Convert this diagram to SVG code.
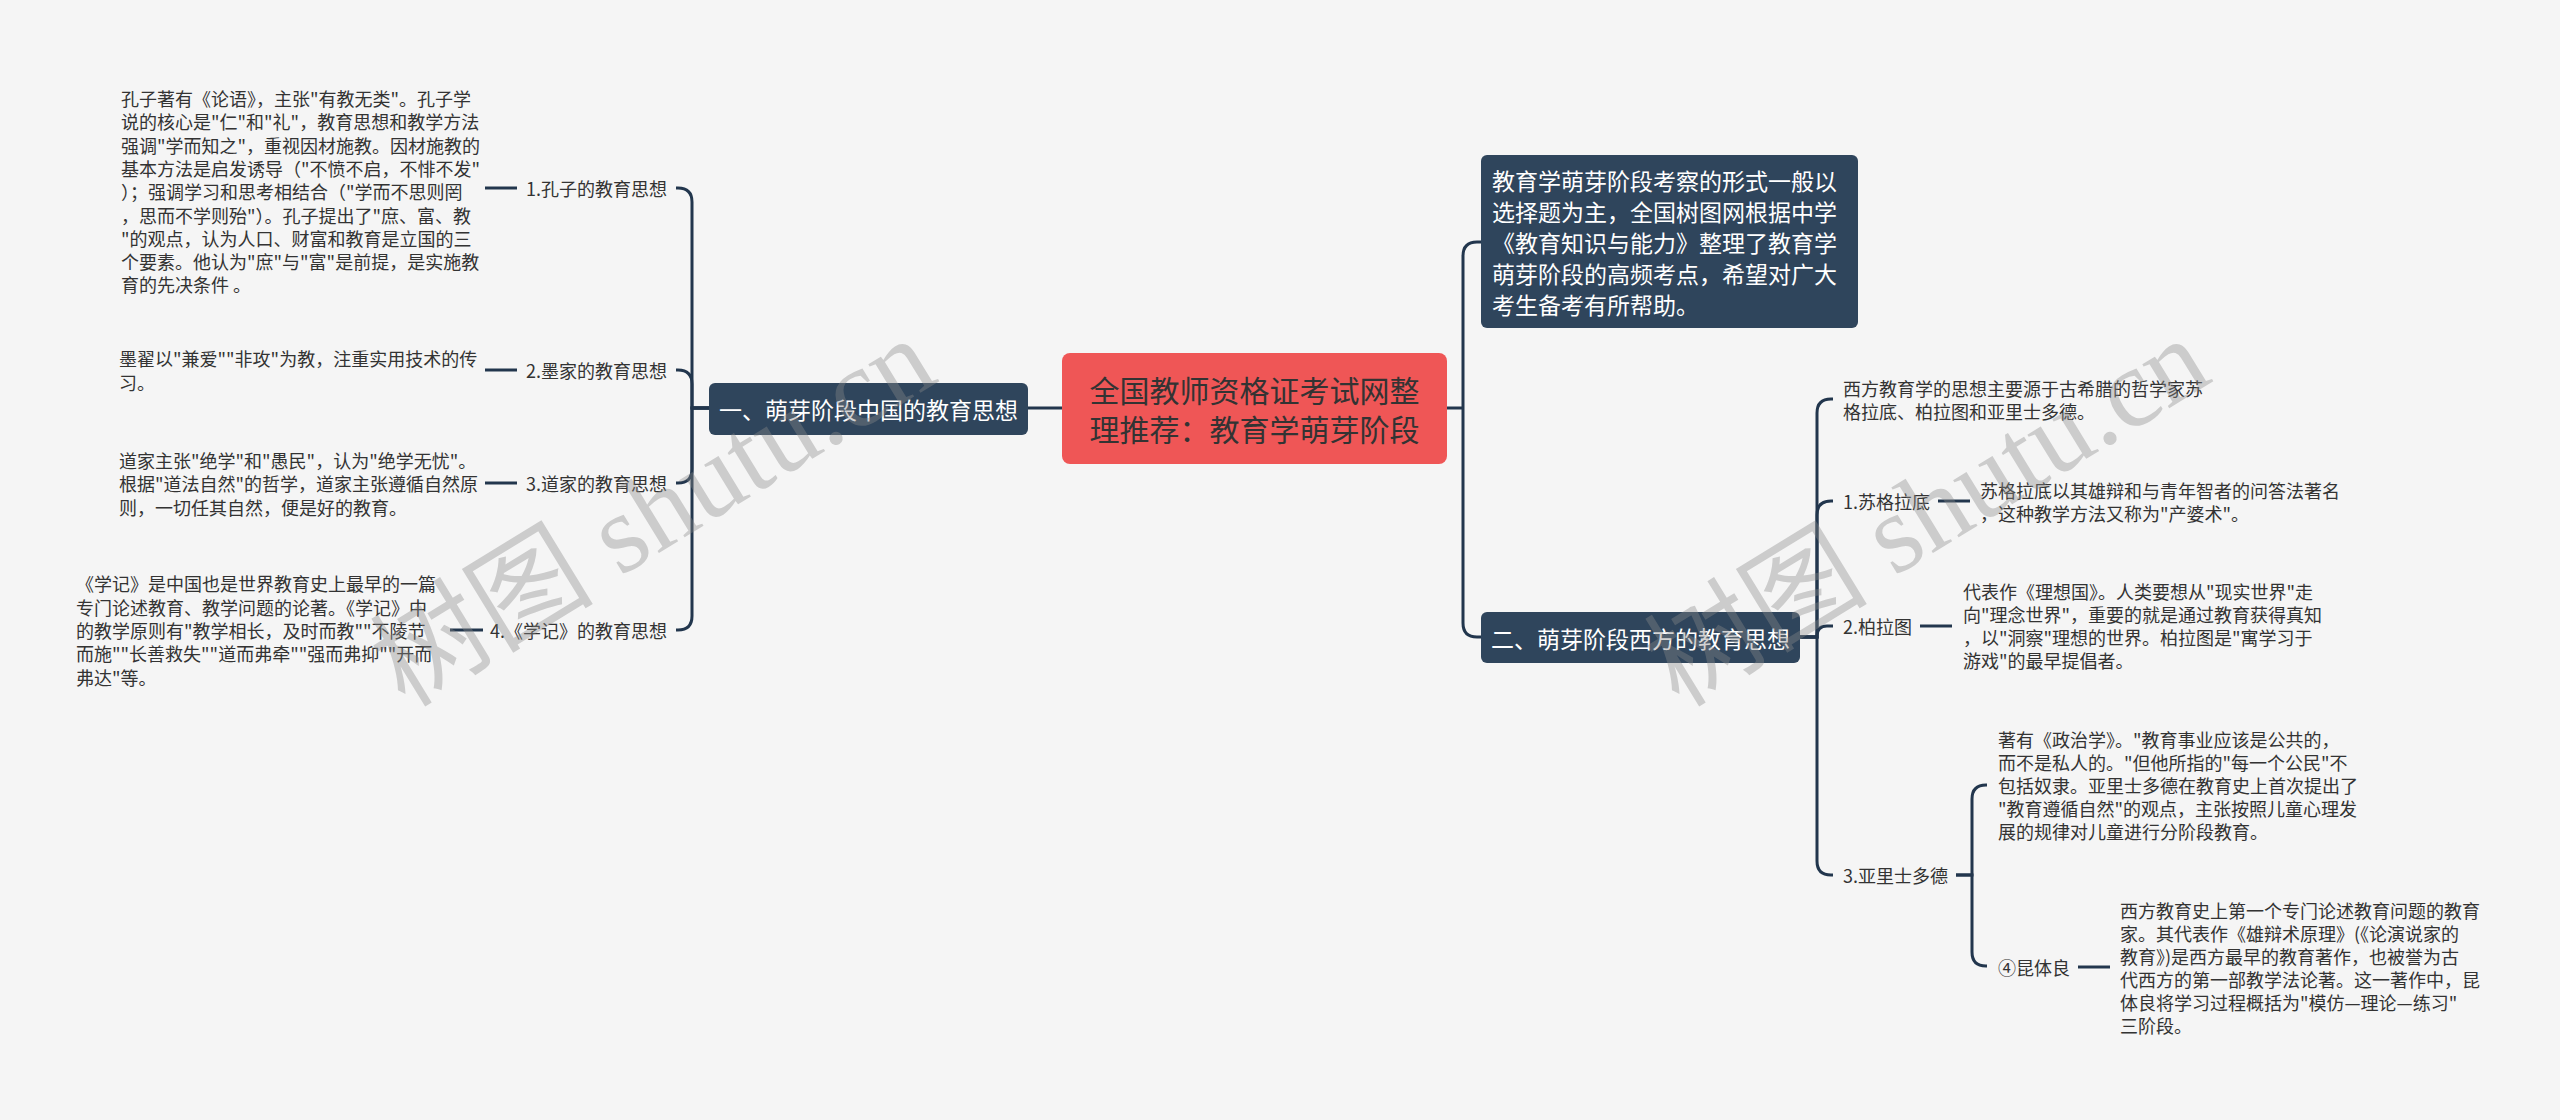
<svg xmlns="http://www.w3.org/2000/svg" width="2560" height="1120" viewBox="0 0 2560 1120">
<style>
  .bg{fill:#f5f5f5}
  .conn{fill:none;stroke:#22364d;stroke-width:3;stroke-linecap:butt}
  .root{fill:#ef5656}
  .main{fill:#2f455c}
  text{font-family:"Noto Sans CJK SC","Liberation Sans",sans-serif;dominant-baseline:central}
  .rt{font-size:30px;fill:#333333;text-anchor:middle}
  .mt{font-size:23px;fill:#ffffff}
  .lbl{font-size:18px;fill:#333333}
  .desc{font-size:18px;fill:#333333}
  .wm{font-family:"Liberation Serif","Noto Sans CJK SC",serif;font-size:112px;fill:#8a8a8a;opacity:0.38;text-anchor:middle}
</style>
<rect class="bg" x="0" y="0" width="2560" height="1120"/>

<g id="connectors">
  <path class="conn" d="M1062,408 H1028"/>
  <path class="conn" d="M1447,408 H1463"/>
  <path class="conn" d="M1463,408 V256 Q1463,242 1477,242 H1481"/>
  <path class="conn" d="M1463,408 V623 Q1463,637 1477,637 H1481"/>
  <path class="conn" d="M709,408 H692 V202 Q692,188 678,188 H676"/>
  <path class="conn" d="M709,408 H692 V384 Q692,370 678,370 H676"/>
  <path class="conn" d="M709,408 H692 V469 Q692,483 678,483 H676"/>
  <path class="conn" d="M709,408 H692 V616 Q692,630 678,630 H676"/>
  <path class="conn" d="M485,188 H517"/>
  <path class="conn" d="M485,370 H517"/>
  <path class="conn" d="M485,483 H517"/>
  <path class="conn" d="M450,630 H483"/>
  <path class="conn" d="M1800,637 H1817 V413 Q1817,399 1831,399 H1833"/>
  <path class="conn" d="M1800,637 H1817 V515 Q1817,501 1831,501 H1833"/>
  <path class="conn" d="M1800,637 H1817 V636 Q1817,626 1827,626 H1833"/>
  <path class="conn" d="M1800,637 H1817 V861 Q1817,875 1831,875 H1833"/>
  <path class="conn" d="M1938,501 H1970"/>
  <path class="conn" d="M1920,626 H1952"/>
  <path class="conn" d="M1956,875 H1972 V799 Q1972,785 1986,785 H1987"/>
  <path class="conn" d="M1956,875 H1972 V952 Q1972,966 1986,966 H1987"/>
  <path class="conn" d="M2078,967 H2110"/>
</g>

<g id="root">
  <rect class="root" x="1062" y="353" width="385" height="111" rx="8"/>
  <text class="rt" x="1254.5" y="389">全国教师资格证考试网整</text>
  <text class="rt" x="1254.5" y="428">理推荐：教育学萌芽阶段</text>
</g>

<g id="intro">
  <rect class="main" x="1481" y="155" width="377" height="173" rx="6"/>
  <text class="mt" x="1492" y="180">教育学萌芽阶段考察的形式一般以</text>
  <text class="mt" x="1492" y="211">选择题为主，全国树图网根据中学</text>
  <text class="mt" x="1492" y="242">《教育知识与能力》整理了教育学</text>
  <text class="mt" x="1492" y="273">萌芽阶段的高频考点，希望对广大</text>
  <text class="mt" x="1492" y="304">考生备考有所帮助。</text>
</g>

<g id="china">
  <rect class="main" x="709" y="383" width="319" height="52" rx="6"/>
  <text class="mt" x="868.5" y="409" text-anchor="middle">一、萌芽阶段中国的教育思想</text>
</g>

<g id="west">
  <rect class="main" x="1481" y="612" width="319" height="51" rx="6"/>
  <text class="mt" x="1640.5" y="637.5" text-anchor="middle">二、萌芽阶段西方的教育思想</text>
</g>

<g id="confucius">
  <text class="lbl" x="667" y="188" text-anchor="end">1.孔子的教育思想</text>
  <text class="desc" x="121" y="98">孔子著有《论语》，主张"有教无类"。孔子学</text>
  <text class="desc" x="121" y="121.3">说的核心是"仁"和"礼"，教育思想和教学方法</text>
  <text class="desc" x="121" y="144.6">强调"学而知之"，重视因材施教。因材施教的</text>
  <text class="desc" x="121" y="167.9">基本方法是启发诱导（"不愤不启，不悱不发"</text>
  <text class="desc" x="121" y="191.2">）；强调学习和思考相结合（"学而不思则罔</text>
  <text class="desc" x="121" y="214.5">，思而不学则殆"）。孔子提出了"庶、富、教</text>
  <text class="desc" x="121" y="237.8">"的观点，认为人口、财富和教育是立国的三</text>
  <text class="desc" x="121" y="261.1">个要素。他认为"庶"与"富"是前提，是实施教</text>
  <text class="desc" x="121" y="284.4">育的先决条件 。</text>
</g>

<g id="mohist">
  <text class="lbl" x="667" y="370" text-anchor="end">2.墨家的教育思想</text>
  <text class="desc" x="119" y="358.4">墨翟以"兼爱""非攻"为教，注重实用技术的传</text>
  <text class="desc" x="119" y="381.7">习。</text>
</g>

<g id="taoist">
  <text class="lbl" x="667" y="483" text-anchor="end">3.道家的教育思想</text>
  <text class="desc" x="119" y="460">道家主张"绝学"和"愚民"，认为"绝学无忧"。</text>
  <text class="desc" x="119" y="483.3">根据"道法自然"的哲学，道家主张遵循自然原</text>
  <text class="desc" x="119" y="506.6">则，一切任其自然，便是好的教育。</text>
</g>

<g id="xueji">
  <text class="lbl" x="667" y="630" text-anchor="end">4.《学记》的教育思想</text>
  <text class="desc" x="76" y="583.4">《学记》是中国也是世界教育史上最早的一篇</text>
  <text class="desc" x="76" y="606.7">专门论述教育、教学问题的论著。《学记》中</text>
  <text class="desc" x="76" y="630">的教学原则有"教学相长，及时而教""不陵节</text>
  <text class="desc" x="76" y="653.3">而施""长善救失""道而弗牵""强而弗抑""开而</text>
  <text class="desc" x="76" y="676.6">弗达"等。</text>
</g>

<g id="west-origin">
  <text class="desc" x="1843" y="388">西方教育学的思想主要源于古希腊的哲学家苏</text>
  <text class="desc" x="1843" y="411">格拉底、柏拉图和亚里士多德。</text>
</g>

<g id="socrates">
  <text class="lbl" x="1843" y="501">1.苏格拉底</text>
  <text class="desc" x="1980" y="490">苏格拉底以其雄辩和与青年智者的问答法著名</text>
  <text class="desc" x="1980" y="513">，这种教学方法又称为"产婆术"。</text>
</g>

<g id="plato">
  <text class="lbl" x="1843" y="626">2.柏拉图</text>
  <text class="desc" x="1963" y="591">代表作《理想国》。人类要想从"现实世界"走</text>
  <text class="desc" x="1963" y="614">向"理念世界"，重要的就是通过教育获得真知</text>
  <text class="desc" x="1963" y="637">，以"洞察"理想的世界。柏拉图是"寓学习于</text>
  <text class="desc" x="1963" y="660">游戏"的最早提倡者。</text>
</g>

<g id="aristotle">
  <text class="lbl" x="1843" y="875">3.亚里士多德</text>
  <text class="desc" x="1998" y="739">著有《政治学》。"教育事业应该是公共的，</text>
  <text class="desc" x="1998" y="762">而不是私人的。"但他所指的"每一个公民"不</text>
  <text class="desc" x="1998" y="785">包括奴隶。亚里士多德在教育史上首次提出了</text>
  <text class="desc" x="1998" y="808">"教育遵循自然"的观点，主张按照儿童心理发</text>
  <text class="desc" x="1998" y="831">展的规律对儿童进行分阶段教育。</text>
</g>

<g id="quintilian">
  <text class="lbl" x="1998" y="967">④昆体良</text>
  <text class="desc" x="2120" y="909.5">西方教育史上第一个专门论述教育问题的教育</text>
  <text class="desc" x="2120" y="932.5">家。其代表作《雄辩术原理》(《论演说家的</text>
  <text class="desc" x="2120" y="955.5">教育》)是西方最早的教育著作，也被誉为古</text>
  <text class="desc" x="2120" y="978.5">代西方的第一部教学法论著。这一著作中，昆</text>
  <text class="desc" x="2120" y="1001.5">体良将学习过程概括为"模仿—理论—练习"</text>
  <text class="desc" x="2120" y="1024.5">三阶段。</text>
</g>

<g id="watermarks">
  <text class="wm" transform="translate(653,512) rotate(-31.5)">树图 shutu.cn</text>
  <text class="wm" transform="translate(1927,512) rotate(-31.5)">树图 shutu.cn</text>
</g>
</svg>
